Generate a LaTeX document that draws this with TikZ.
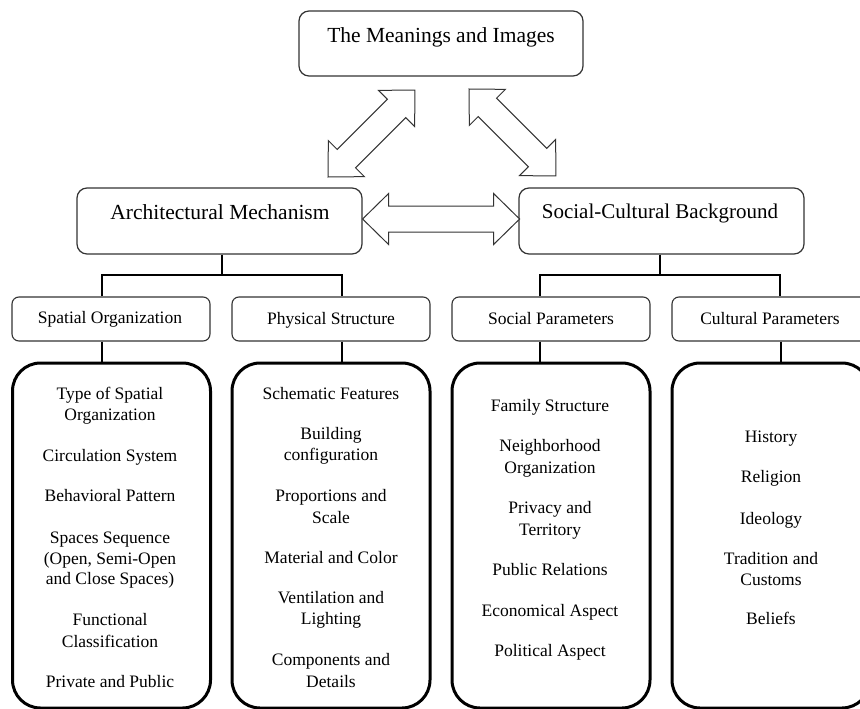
\documentclass[tikz,border=0pt]{standalone}
\usepackage{fontspec}
\setmainfont{Liberation Serif}
\begin{document}
\begin{tikzpicture}[x=1pt,y=-1pt,
  box/.style={draw=black!80, line width=1.2pt, rounded corners=10pt, inner sep=0pt, fill=white},
  subbox/.style={draw=black!80, line width=1.1pt, rounded corners=7pt, inner sep=0pt, minimum width=198pt, minimum height=44pt},
  bigbox/.style={draw=black, line width=3pt, rounded corners=28pt, inner sep=0pt, minimum width=198pt, minimum height=345pt},
  tree/.style={draw=black, line width=2.8pt},
  arrowline/.style={draw=black!80, line width=1pt, fill=white, line join=miter},
  txt/.style={font=\fontsize{17.5}{21}\selectfont, inner sep=0pt, anchor=base},
  head/.style={font=\fontsize{21.5}{26}\selectfont, inner sep=0pt, anchor=base},
  dblarrow/.pic={\path[arrowline] (0,0) -- (26,25.5) -- (26,13) -- (#1-26,13) -- (#1-26,25.5) -- (#1,0) -- (#1-26,-25.5) -- (#1-26,-13) -- (26,-13) -- (26,-25.5) -- cycle;}
]
\useasboundingbox (0,0) rectangle (860,709);
\clip (0,0) rectangle (860,709);
\fill[white] (0,0) rectangle (860,709);

% top level
\node[box, minimum width=284pt, minimum height=65pt] (top) at (441,43.5) {};
\node[head] (toptxt) at (441,43) {The Meanings and Images};

\node[box, minimum width=285pt, minimum height=66pt] (arch) at (219.5,221) {};
\node[head] (archtxt) at (220,219) {Architectural Mechanism};

\node[box, minimum width=285pt, minimum height=66pt] (soc) at (661.5,221) {};
\node[head, font=\fontsize{21}{25}\selectfont] (soctxt) at (660,218) {Social-Cultural Background};

% double arrows
\coordinate (la) at (328,177);
\coordinate (ra) at (469,89);
\pic[rotate=45] at (la) {dblarrow=123};
\pic[rotate=-45] at (ra) {dblarrow=123};
\pic at (arch.east |- 0,219) {dblarrow=157};

% sub boxes
\node[subbox] (sp) at (111,319) {};
\node[txt] (sptxt) at (110,323) {Spatial Organization};
\node[subbox] (ph) at (331,319) {};
\node[txt] (phtxt) at (331,324.5) {Physical Structure};
\node[subbox] (sc) at (551,319) {};
\node[txt] (sctxt) at (551,324) {Social Parameters};
\node[subbox] (cu) at (771,319) {};
\node[txt] (cutxt) at (770,324) {Cultural Parameters};

% big boxes
\node[bigbox] (bsp) at (111.5,535.5) {};
\node[bigbox] (bph) at (331,535.5) {};
\node[bigbox] (bsc) at (551,535.5) {};
\node[bigbox] (bcu) at (771,535.5) {};

% tree connectors
\coordinate (aj) at (222,275);
\coordinate (sj) at (660,275);
\draw[tree] (arch.south -| aj) -- (aj);
\draw[tree] (sp.north -| 102,0) |- (aj) -| (ph.north -| 342,0);
\draw[tree] (soc.south -| sj) -- (sj);
\draw[tree] (sc.north -| 540,0) |- (sj) -| (cu.north -| 780,0);
\draw[tree] (sp.south -| 102,0) -- (bsp.north -| 102,0);
\draw[tree] (ph.south -| 342,0) -- (bph.north -| 342,0);
\draw[tree] (sc.south -| 540,0) -- (bsc.north -| 540,0);
\draw[tree] (cu.south -| 781,0) -- (bcu.north -| 781,0);

% lists
\foreach \y/\t [count=\i] in {399/Type of Spatial, 420/Organization, 461/Circulation System, 501/Behavioral Pattern, 543/Spaces Sequence, 564/{(Open, Semi-Open}, 584/and Close Spaces), 625/Functional, 647/Classification, 687/Private and Public}
  \node[txt] (a\i) at (110,\y) {\t};
\foreach \y/\t [count=\i] in {399/Schematic Features, 439/Building, 460/configuration, 501/Proportions and, 523/Scale, 563/Material and Color, 603/Ventilation and, 624/Lighting, 665/Components and, 687/Details}
  \node[txt] (b\i) at (331,\y) {\t};
\foreach \y/\t [count=\i] in {411/Family Structure, 451/Neighborhood, 473/Organization, 513/Privacy and, 535/Territory, 575/Public Relations, 616/Economical Aspect, 656/Political Aspect}
  \node[txt] (c\i) at (550,\y) {\t};
\foreach \y/\t [count=\i] in {442/History, 482/Religion, 524/Ideology, 564/Tradition and, 585/Customs, 624/Beliefs}
  \node[txt] (d\i) at (771,\y) {\t};
\end{tikzpicture}
\end{document}
